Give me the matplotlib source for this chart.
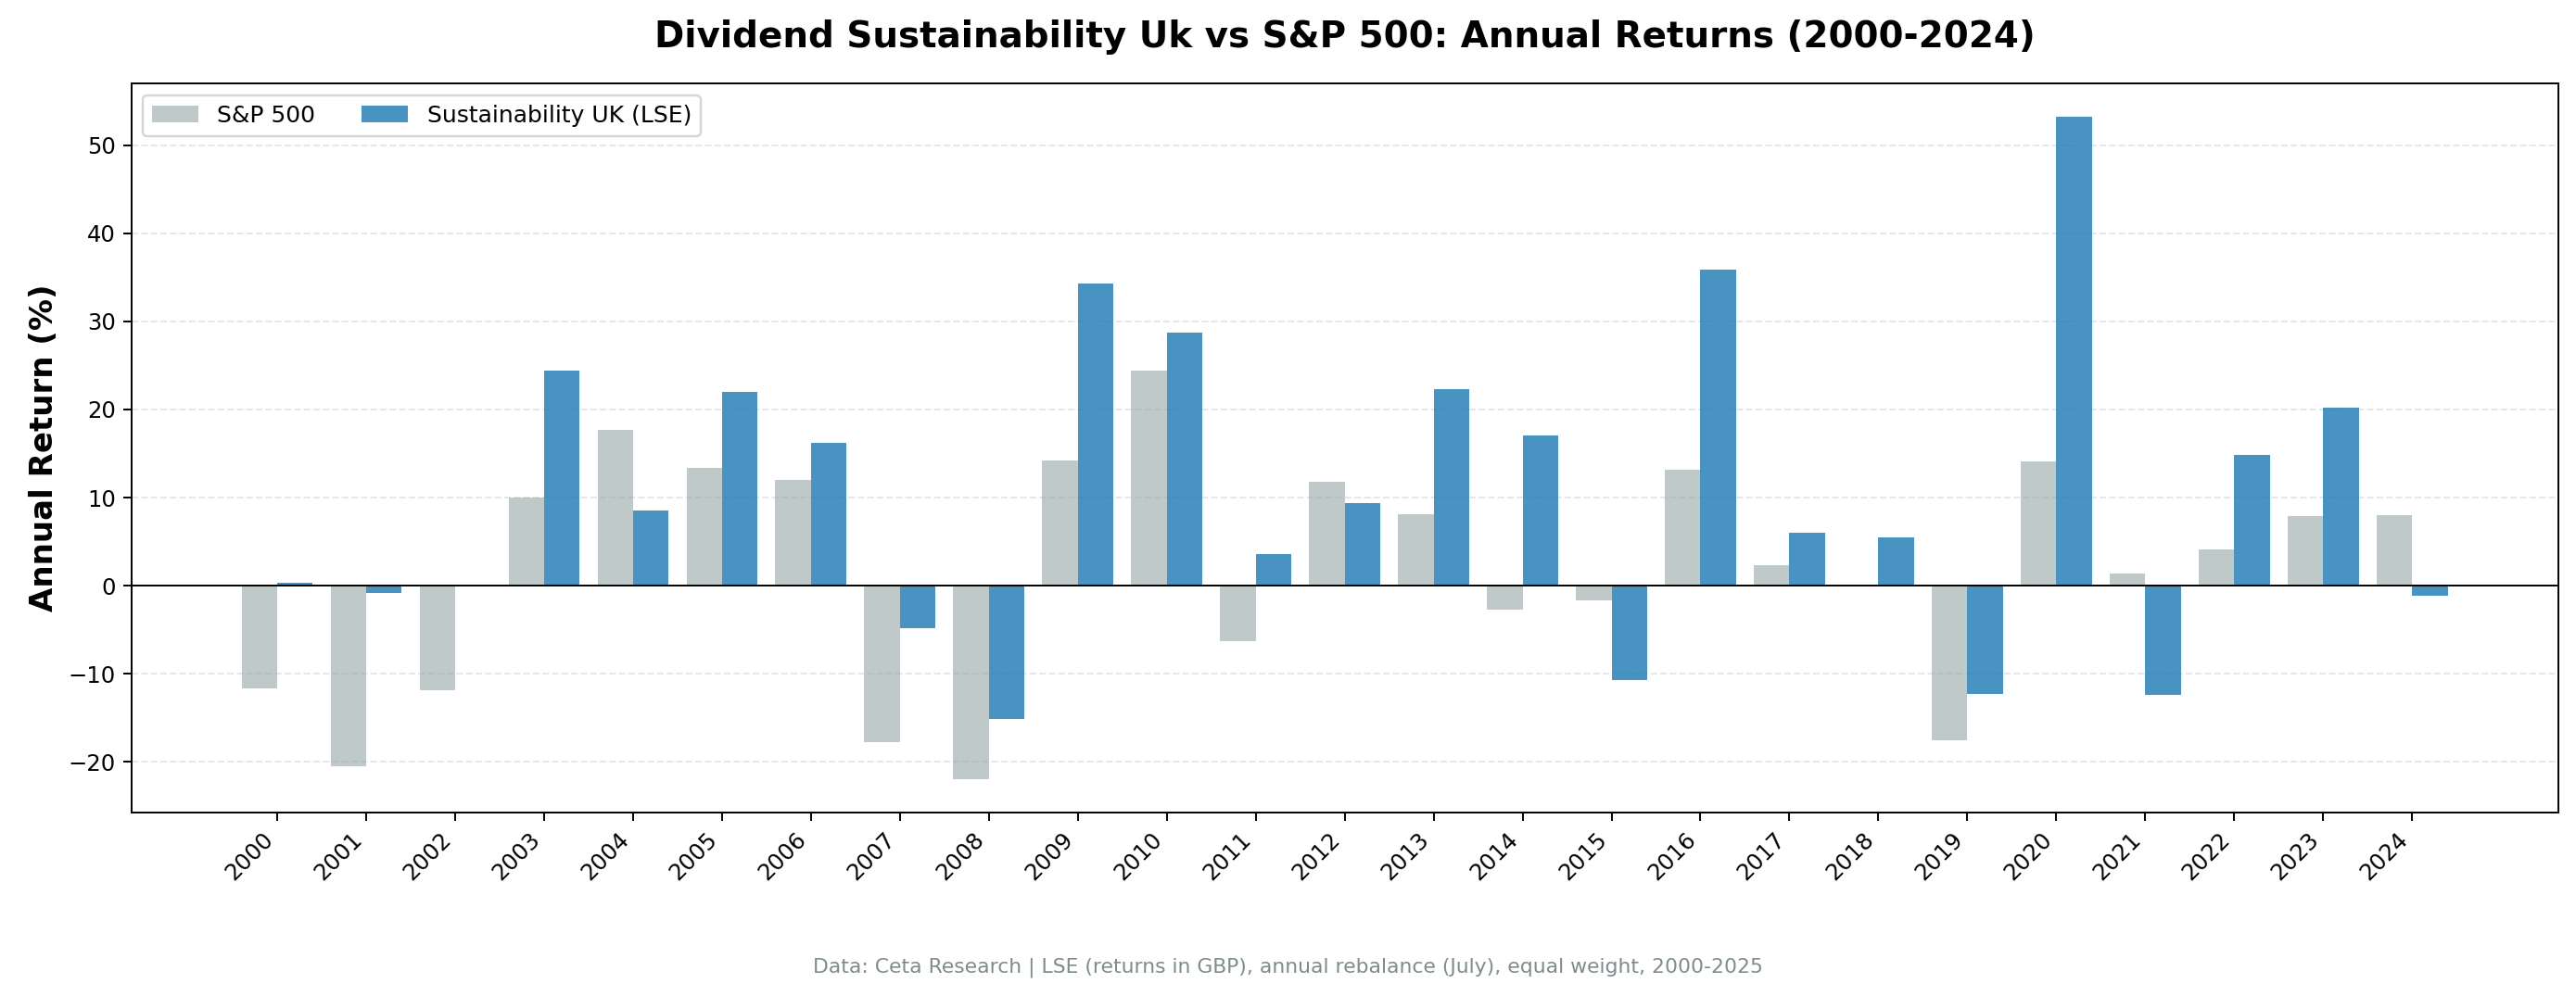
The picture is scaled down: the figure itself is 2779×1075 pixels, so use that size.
import matplotlib
matplotlib.use("Agg")
import matplotlib.pyplot as plt
import numpy as np

# annual returns (%)
years = list(range(2000, 2025))
sp500_returns = [-11.7, -20.5, -11.9, 10.0, 17.7, 13.4, 12.0, -17.7, -22.0, 14.2,
                 24.4, -6.3, 11.8, 8.1, -2.7, -1.7, 13.2, 2.3, 0.0, -17.5,
                 14.1, 1.4, 4.1, 7.9, 8.0]
uk_returns = [0.3, -0.8, 0.0, 24.4, 8.5, 22.0, 16.2, -4.8, -15.1, 34.3,
              28.7, 3.6, 9.4, 22.3, 17.0, -10.7, 35.9, 6.0, 5.5, -12.3,
              53.2, -12.4, 14.8, 20.2, -1.1]

series_labels = ["S&P 500", "Sustainability UK (LSE)"]
title = "Dividend Sustainability Uk vs S&P 500: Annual Returns (2000-2024)"
footer = "Data: Ceta Research | LSE (returns in GBP), annual rebalance (July), equal weight, 2000-2025"

dpi = 175
fig = plt.figure(figsize=(2779 / dpi, 1075 / dpi), dpi=dpi)
ax = fig.add_axes([0.051, 0.184, 0.942, 0.732])

x = np.arange(len(years))
width = 0.4
ax.bar(x - width / 2, sp500_returns, width, color="#95a5a6", alpha=0.6, label=series_labels[0])
ax.bar(x + width / 2, uk_returns, width, color="#2980b9", alpha=0.85, label=series_labels[1])

ax.axhline(0, color="black", linewidth=0.8)
ax.set_ylabel("Annual Return (%)", fontsize=14, fontweight="bold")
ax.set_title(title, fontsize=16, fontweight="bold", pad=16)
ax.set_xticks(x)
ax.set_xticklabels([str(y) for y in years], rotation=45, ha="right", fontsize=10)
ax.tick_params(axis="y", labelsize=10)
ax.grid(axis="y", linestyle="--", alpha=0.3)
ax.set_axisbelow(True)
ax.legend(loc="upper left", ncol=2, fontsize=10.3)

fig.text(0.5, 0.029, footer, ha="center", va="center", fontsize=9, color="#7f8c8d")

fig.savefig("out.png", dpi=dpi)
